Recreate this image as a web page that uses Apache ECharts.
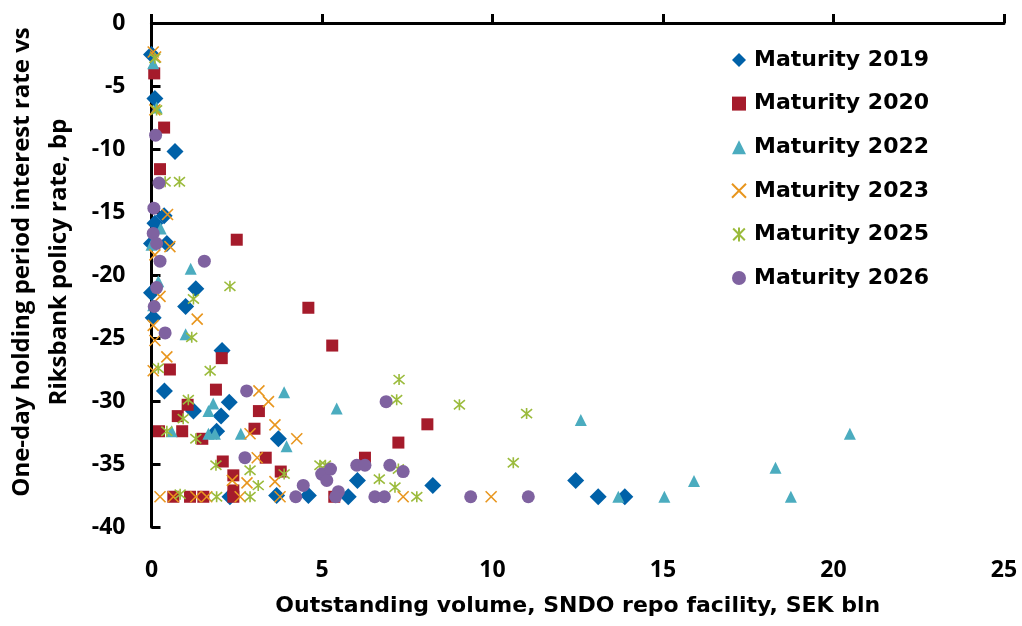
<!DOCTYPE html>
<html>
<head>
<meta charset="utf-8">
<script src="https://cdn.jsdelivr.net/npm/echarts@6/dist/echarts.min.js"></script>
<style>
  html, body { margin: 0; padding: 0; background: #fff; }
  #chart { width: 1022px; height: 626px; }
</style>
</head>
<body>
<div id="chart"></div>
<script>
// Axis ticks
const xTicks = { min: 0, max: 25, interval: 5 };
const yTicks = { min: -40, max: 0, interval: 5 };

// [outstanding volume SEK bln, rate vs policy rate bp]
const mat2019 = [
  [0, -2.5], [0.1, -6], [0.69, -10.2], [0.37, -15.3], [0.1, -15.9], [0, -17.5], [0.45, -17.5],
  [1.3, -21.1], [0, -21.4], [1.0, -22.5], [0.05, -23.4], [2.07, -26], [0.38, -29.2], [1.23, -30.8],
  [2.04, -31.2], [2.28, -30.1], [1.91, -32.4], [3.72, -33.0], [2.3, -37.6], [3.67, -37.5],
  [4.6, -37.5], [5.77, -37.6], [6.04, -36.3], [8.25, -36.7], [12.44, -36.3], [13.1, -37.6], [13.88, -37.6]
];
const mat2020 = [
  [0.08, -4.0], [0.37, -8.3], [0.25, -11.6], [2.5, -17.2], [4.6, -22.6], [5.3, -25.6], [2.06, -26.6],
  [0.54, -27.5], [1.89, -29.1], [1.06, -30.3], [0.77, -31.2], [3.15, -30.8], [0.22, -32.4], [0.9, -32.4],
  [3.02, -32.2], [1.49, -33.0], [2.09, -34.8], [3.35, -34.5], [2.4, -35.9], [3.79, -35.6], [2.4, -37.1],
  [0.64, -37.6], [1.13, -37.6], [1.52, -37.6], [2.4, -37.6], [5.36, -37.6], [6.26, -34.5], [7.24, -33.3],
  [8.09, -31.85]
];
const mat2022 = [
  [0.05, -3.2], [0.15, -6.7], [0.27, -16.3], [0, -17.6], [1.15, -19.5], [0.2, -20.5], [0.05, -22.4],
  [1.0, -24.7], [3.89, -29.3], [1.81, -30.2], [1.67, -30.8], [5.43, -30.6], [0.59, -32.4], [1.67, -32.6],
  [1.86, -32.6], [2.62, -32.6], [3.96, -33.6], [12.59, -31.5], [13.69, -37.6], [15.04, -37.6],
  [15.91, -36.35], [18.3, -35.3], [18.75, -37.6], [20.48, -32.6]
];
const mat2023 = [
  [0.05, -2.3], [0.12, -2.7], [0.1, -6.9], [0.47, -15.2], [0.54, -17.75], [0.1, -18.4], [0.25, -21.7],
  [1.34, -23.5], [0.05, -24.0], [0.1, -25.2], [0.45, -26.5], [0.05, -27.6], [3.15, -29.2], [3.43, -30.05],
  [3.62, -31.9], [2.89, -32.6], [4.26, -33.0], [3.1, -34.5], [2.37, -36.3], [2.8, -36.5], [3.62, -36.4],
  [0.25, -37.6], [0.64, -37.6], [1.3, -37.6], [1.62, -37.6], [2.6, -37.6], [3.77, -37.6], [7.38, -37.6],
  [9.96, -37.6]
];
const mat2025 = [
  [0.1, -2.8], [0.15, -6.9], [0.4, -12.6], [0.82, -12.6], [2.3, -20.9], [1.23, -21.9], [1.18, -24.95],
  [0.2, -27.4], [1.72, -27.6], [1.08, -29.9], [0.93, -31.4], [0.45, -32.4], [1.3, -33.0], [1.89, -35.1],
  [2.89, -35.5], [3.13, -36.7], [3.89, -35.8], [4.94, -35.1], [5.1, -35.1], [0.84, -37.4], [1.91, -37.6],
  [2.89, -37.6], [6.68, -36.2], [7.14, -36.85], [7.24, -35.4], [7.78, -37.6], [7.26, -28.3], [7.19, -29.9],
  [9.03, -30.3], [11.0, -31.0], [10.61, -34.9]
];
const mat2026 = [
  [0.12, -8.9], [0.22, -12.7], [0.07, -14.7], [0.05, -16.7], [0.15, -17.5], [0.25, -18.9], [1.55, -18.9],
  [0.15, -21.0], [0.08, -22.5], [0.4, -24.6], [2.79, -29.2], [2.74, -34.5], [4.45, -36.7], [4.23, -37.6],
  [4.99, -35.8], [5.25, -35.4], [5.14, -36.3], [5.48, -37.2], [5.4, -37.6], [6.02, -35.1], [6.26, -35.1],
  [6.99, -35.1], [7.38, -35.6], [6.55, -37.6], [6.83, -37.6], [6.88, -30.05], [9.36, -37.6], [11.05, -37.6]
];

const seriesNames = ['Maturity 2019', 'Maturity 2020', 'Maturity 2022', 'Maturity 2023', 'Maturity 2025', 'Maturity 2026'];

const crossPath = 'path://M0,0L10,10M10,0L0,10';
const starPath = 'path://M0,0L10,10M10,0L0,10M5,-1L5,11';

function filled(name, data, symbol, size, color) {
    return { name, type: 'scatter', data, symbol, symbolSize: size, itemStyle: { color, opacity: 1 } };
}
function stroked(name, data, symbol, size, color) {
    return {
        name, type: 'scatter', data, symbol, symbolSize: size,
        itemStyle: { color: 'transparent', borderColor: color, borderWidth: 1.6, opacity: 1 }
    };
}

// narrow font for ticks / y title, wider one for legend and x title
const tickFont = { fontFamily: 'Open Sans', fontWeight: 'bold', fontSize: 23, color: '#000' };
const wideFont = { fontFamily: 'DejaVu Sans', fontWeight: 'bold', fontSize: 22, color: '#000' };

const chart = echarts.init(document.getElementById('chart'));
chart.setOption({
    animation: false,
    grid: { left: 151.5, right: 18, top: 23, bottom: 99, outerBoundsMode: 'none', containLabel: false },
    legend: {
        orient: 'vertical', left: 726, top: 42,
        itemWidth: 14, itemHeight: 14, itemGap: 17.6,
        textStyle: Object.assign({ lineHeight: 26, padding: [0, 0, 0, 3] }, wideFont),
        data: seriesNames
    },
    xAxis: [{
        type: 'value', position: 'top', ...xTicks,
        axisLine: { lineStyle: { color: '#000', width: 3 } },
        axisTick: { length: 9, lineStyle: { color: '#000', width: 3 } },
        axisLabel: { show: false }, splitLine: { show: false }
    }, {
        type: 'value', position: 'bottom', ...xTicks,
        axisLine: { show: false }, axisTick: { show: false }, splitLine: { show: false },
        axisLabel: Object.assign({ margin: 32 }, tickFont),
        name: 'Outstanding volume, SNDO repo facility, SEK bln',
        nameLocation: 'middle', nameGap: 68,
        nameTextStyle: wideFont
    }],
    yAxis: {
        type: 'value', ...yTicks,
        axisLine: { lineStyle: { color: '#000', width: 3 } },
        axisTick: { inside: true, length: 9, lineStyle: { color: '#000', width: 3 } },
        axisLabel: Object.assign({ margin: 26 }, tickFont),
        splitLine: { show: false },
        name: 'One-day holding period interest rate vs\nRiksbank policy rate, bp',
        nameLocation: 'middle', nameRotate: 90, nameGap: 74,
        nameTextStyle: Object.assign({}, tickFont, { fontSize: 24, lineHeight: 37, padding: [0, 0, 0, 26] })
    },
    series: [
        filled(seriesNames[0], mat2019, 'diamond', 17, '#0061A8'),
        filled(seriesNames[1], mat2020, 'rect', 12, '#A51B2B'),
        filled(seriesNames[2], mat2022, 'triangle', 12, '#4BACBF'),
        stroked(seriesNames[3], mat2023, crossPath, 11, '#E8961E'),
        stroked(seriesNames[4], mat2025, starPath, 11, '#9BBB3C'),
        filled(seriesNames[5], mat2026, 'circle', 13, '#7F62A0')
    ]
});
</script>
</body>
</html>
